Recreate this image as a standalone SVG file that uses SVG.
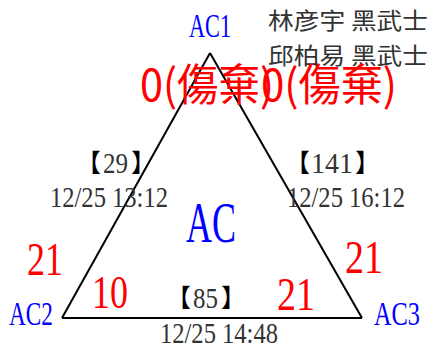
<svg xmlns="http://www.w3.org/2000/svg" width="437" height="349" viewBox="0 0 437 349">
<style>
.ser{font-family:"Liberation Serif","Noto Sans CJK TC",serif;}
.cjk{font-family:"Noto Sans CJK TC",sans-serif;}
.brk{font-family:"Noto Sans CJK JP",sans-serif;font-size:25px;fill:#000;}
.blue{fill:#0000ff;}
.red{fill:#ff0000;}
.gray{fill:#333;}
.edge{stroke:#000;stroke-width:2;fill:none;}
</style>
<rect width="437" height="349" fill="#fff"/>
<g id="connectors">
<line class="edge" x1="210" y1="53" x2="62" y2="318"/>
<line class="edge" x1="210" y1="53" x2="362" y2="318"/>
<line class="edge" x1="62" y1="318" x2="362" y2="318"/>
</g>
<g id="node-AC1">
<text class="ser blue" x="189" y="37" font-size="33" textLength="42" lengthAdjust="spacingAndGlyphs">AC1</text>
</g>
<g id="node-AC2">
<text class="ser blue" x="9" y="325" font-size="34" textLength="44" lengthAdjust="spacingAndGlyphs">AC2</text>
</g>
<g id="node-AC3">
<text class="ser blue" x="374" y="325" font-size="34" textLength="46" lengthAdjust="spacingAndGlyphs">AC3</text>
</g>
<g id="node-AC">
<text class="ser blue" x="186" y="242" font-size="56" textLength="50" lengthAdjust="spacingAndGlyphs">AC</text>
</g>
<g id="names">
<text class="cjk gray" x="268" y="29" font-size="23" textLength="160" lengthAdjust="spacingAndGlyphs">林彦宇 黑武士</text>
<text class="cjk gray" x="268" y="64" font-size="23" textLength="160" lengthAdjust="spacingAndGlyphs">邱柏易 黑武士</text>
</g>
<g id="edge-AC1-AC2-label">
<text class="brk" x="76" y="172">【</text>
<text class="ser gray" x="103" y="173" font-size="29" textLength="25" lengthAdjust="spacingAndGlyphs">29</text>
<text class="brk" x="131" y="172">】</text>
<text class="ser gray" x="50" y="207" font-size="29" textLength="118" lengthAdjust="spacingAndGlyphs">12/25 13:12</text>
</g>
<g id="edge-AC1-AC3-label">
<text class="brk" x="285" y="172">【</text>
<text class="ser gray" x="311" y="173" font-size="29" textLength="42" lengthAdjust="spacingAndGlyphs">141</text>
<text class="brk" x="355" y="172">】</text>
<text class="ser gray" x="287" y="207" font-size="29" textLength="118" lengthAdjust="spacingAndGlyphs">12/25 16:12</text>
</g>
<g id="edge-AC2-AC3-label">
<text class="brk" x="166" y="307">【</text>
<text class="ser gray" x="193" y="308" font-size="29" textLength="25" lengthAdjust="spacingAndGlyphs">85</text>
<text class="brk" x="221" y="307">】</text>
<text class="ser gray" x="160" y="343" font-size="29" textLength="118" lengthAdjust="spacingAndGlyphs">12/25 14:48</text>
</g>
<g id="scores">
<text class="ser red" x="27" y="275" font-size="47" textLength="36" lengthAdjust="spacingAndGlyphs">21</text>
<text class="ser red" x="92" y="308" font-size="47" textLength="36" lengthAdjust="spacingAndGlyphs">10</text>
<text class="ser red" x="345" y="273" font-size="47" textLength="38" lengthAdjust="spacingAndGlyphs">21</text>
<text class="ser red" x="277" y="310" font-size="47" textLength="38" lengthAdjust="spacingAndGlyphs">21</text>
<text class="cjk red" x="140" y="101" font-size="44" textLength="134" lengthAdjust="spacingAndGlyphs">0(傷棄)</text>
<text class="cjk red" x="261" y="101" font-size="44" textLength="136" lengthAdjust="spacingAndGlyphs">0(傷棄)</text>
</g>
</svg>
